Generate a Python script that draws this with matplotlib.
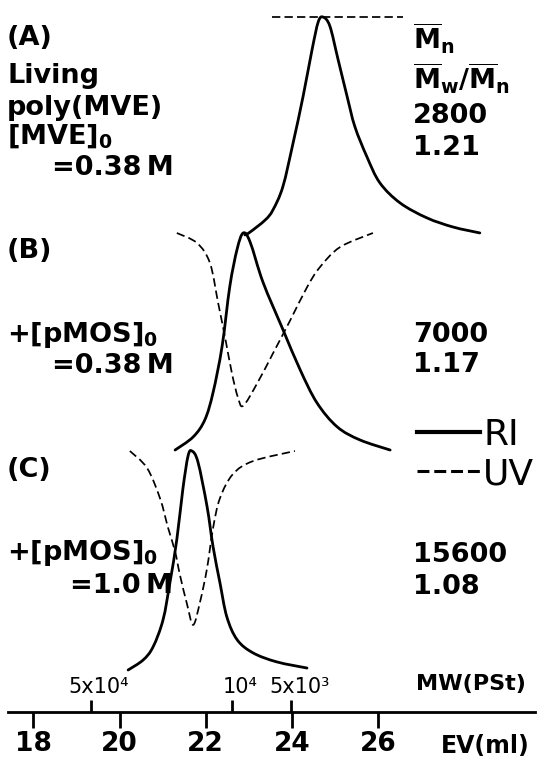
"""GPC traces (RI / UV) of living poly(MVE) before and after pMOS addition."""

import matplotlib
matplotlib.use("Agg")
import matplotlib.pyplot as plt
import matplotlib.transforms as mtransforms
from matplotlib.patches import PathPatch
from matplotlib.path import Path

plt.rcParams["font.family"] = ["DejaVu Sans"]
plt.rcParams["mathtext.fontset"] = "custom"
plt.rcParams["mathtext.rm"] = "DejaVu Sans:bold"
plt.rcParams["mathtext.it"] = "DejaVu Sans:bold"
plt.rcParams["mathtext.bf"] = "DejaVu Sans:bold"

# ---- data (elution volume in ml, detector response relative to RI peak) ----
A_RI_EV = [22.91, 23.03, 23.38, 23.56, 23.79, 24.03, 24.26, 24.47, 24.61, 24.72,
           24.88, 25.07, 25.28, 25.46, 25.74, 26.04, 26.51, 27.13, 27.74, 28.36]
A_RI = [0.005, 0.018, 0.073, 0.119, 0.225, 0.427, 0.638, 0.853, 0.977, 1.0,
        0.959, 0.807, 0.638, 0.500, 0.362, 0.243, 0.151, 0.083, 0.041, 0.014]
A_UV_EV = [23.54, 26.58]
A_UV = [0.0, 0.0]

B_RI_EV = [21.29, 21.71, 21.98, 22.17, 22.38, 22.56, 22.73, 22.87,
           23.03, 23.33, 23.79, 24.19, 24.58, 25.05, 25.58, 26.28]
B_RI = [0.009, 0.069, 0.147, 0.271, 0.482, 0.757, 0.927, 1.0,
        0.959, 0.775, 0.560, 0.376, 0.225, 0.115, 0.055, 0.009]
B_UV_EV = [21.33, 21.80, 22.10, 22.29, 22.45, 22.61, 22.75, 22.87,
           23.19, 23.56, 23.96, 24.35, 24.65, 25.12, 25.88]
B_UV = [0.0, 0.046, 0.138, 0.321, 0.477, 0.642, 0.752, 0.789,
        0.688, 0.550, 0.399, 0.248, 0.156, 0.064, 0.0]

C_RI_EV = [20.20, 20.55, 20.78, 21.01, 21.17, 21.33, 21.47, 21.59, 21.68,
           21.82, 22.03, 22.17, 22.33, 22.49, 22.73, 23.10, 23.65, 24.35]
C_RI = [0.0, 0.046, 0.106, 0.229, 0.399, 0.596, 0.826, 0.977, 1.0,
        0.950, 0.748, 0.564, 0.399, 0.243, 0.138, 0.078, 0.037, 0.009]
C_UV_EV = [20.24, 20.64, 20.94, 21.13, 21.29, 21.40, 21.57, 21.71,
           21.87, 22.03, 22.17, 22.33, 22.63, 23.10, 24.07]
C_UV = [0.0, 0.078, 0.216, 0.353, 0.459, 0.564, 0.702, 0.794,
        0.688, 0.537, 0.353, 0.216, 0.106, 0.046, 0.0]

MN = ["2800", "7000", "15600"]
PDI = ["1.21", "1.17", "1.08"]

EV_TICKS = [18, 20, 22, 24, 26]
MW_TICK_EV = [19.33, 22.62, 23.99]
MW_TICK_LABELS = ["5x10\u2074", "10\u2074", "5x10\u00b3"]

# ---- layout ----
W, H = 538, 757
AXIS_Y = 712                      # pixel row of the EV axis line
BASES = [476, 260, 42]            # RI baseline of each trace, px above axis
SCALE = 219                       # px per unit response
RI_KW = dict(color="black", lw=2.0, capstyle="round", joinstyle="round")
UV_KW = dict(color="black", lw=1.25, ls=(0, (4.8, 2.4)))

fig = plt.figure(figsize=(W / 100, H / 100), dpi=100)
ax = fig.add_axes([0, (H - AXIS_Y) / H, 1, AXIS_Y / H])
ax.set_xlim(18 - 33.3 / 43.1, 18 + (W - 33.3) / 43.1)
ax.set_ylim(0, AXIS_Y)


def px(x, y):
    return x / W, 1 - y / H


def smooth_trace(ax, xs, ys, **kw):
    """Draw the read points joined by a Catmull-Rom curve (as Bezier path)."""
    pts = list(zip(xs, ys))
    if len(pts) < 3:
        ax.plot(xs, ys, color=kw["color"], lw=kw["lw"], ls=kw.get("ls", "-"))
        return
    verts, codes = [pts[0]], [Path.MOVETO]
    n = len(pts)
    for i in range(n - 1):
        p0 = pts[max(i - 1, 0)]
        p1, p2 = pts[i], pts[i + 1]
        p3 = pts[min(i + 2, n - 1)]
        c1 = (p1[0] + (p2[0] - p0[0]) / 6, p1[1] + (p2[1] - p0[1]) / 6)
        c2 = (p2[0] - (p3[0] - p1[0]) / 6, p2[1] - (p3[1] - p1[1]) / 6)
        verts += [c1, c2, p2]
        codes += [Path.CURVE4] * 3
    ax.add_patch(PathPatch(Path(verts, codes), fill=False, **kw))


traces = [(A_RI_EV, A_RI, A_UV_EV, A_UV),
          (B_RI_EV, B_RI, B_UV_EV, B_UV),
          (C_RI_EV, C_RI, C_UV_EV, C_UV)]
for base, (rx, ry, ux, uy) in zip(BASES, traces):
    top = base + SCALE
    smooth_trace(ax, rx, [base + v * SCALE for v in ry], **RI_KW)
    smooth_trace(ax, ux, [top - v * SCALE for v in uy], **UV_KW)

# EV axis
for s in ("left", "right", "top"):
    ax.spines[s].set_visible(False)
ax.spines["bottom"].set_linewidth(2.0)
ax.spines["bottom"].set_bounds(17.41, 29.64)
ax.yaxis.set_visible(False)
ax.set_xticks(EV_TICKS)
ax.tick_params(axis="x", direction="out", length=11.5, width=2.0, pad=2.5,
               labelsize=19)
for t in ax.get_xticklabels():
    t.set_fontweight("bold")

# MW (PSt) calibration ticks, on the same line, pointing up
ax2 = ax.twiny()
ax2.set_xlim(ax.get_xlim())
for s in ax2.spines.values():
    s.set_visible(False)
ax2.spines["top"].set_position(("axes", 0))
ax2.set_xticks(MW_TICK_EV, MW_TICK_LABELS)
ax2.tick_params(axis="x", direction="out", length=8.5, width=2.0, pad=2,
                labelsize=15)
shift = mtransforms.ScaledTranslation(8 / 100, 0, fig.dpi_scale_trans)
for t in ax2.get_xticklabels():
    t.set_transform(t.get_transform() + shift)

fig.text(*px(416, 690), "MW(PSt)", fontsize=16, fontweight="bold", va="baseline")
fig.text(*px(441, 753), "EV(ml)", fontsize=17, fontweight="bold", va="baseline")

# sample annotations
TXT = dict(fontsize=19.5, fontweight="bold", va="baseline")
fig.text(*px(7, 45), "(A)", **TXT)
fig.text(*px(7, 83), "Living", **TXT)
fig.text(*px(7, 115), "poly(MVE)", **TXT)
fig.text(*px(7, 143), "[MVE]$_0$", **TXT)
fig.text(*px(52, 175), "=0.38\u2009M", **TXT)

fig.text(*px(7, 258), "(B)", **TXT)
fig.text(*px(7, 342), "+[pMOS]$_0$", **TXT)
fig.text(*px(52, 373), "=0.38\u2009M", **TXT)

fig.text(*px(7, 477), "(C)", **TXT)
fig.text(*px(7, 560), "+[pMOS]$_0$", **TXT)
fig.text(*px(70, 593), "=1.0\u2009M", **TXT)

fig.text(*px(413, 50), r"$\overline{M}_n$", **TXT)
fig.text(*px(413, 90), r"$\overline{M}_w/\overline{M}_n$", **TXT)
for (y1, y2), mn, pdi in zip([(123, 155), (342, 372), (562, 594)], MN, PDI):
    fig.text(*px(413, y1), mn, **TXT)
    fig.text(*px(413, y2), pdi, **TXT)

# detector legend
h_ri, = ax.plot([], [], color="black", lw=3.0)
h_uv, = ax.plot([], [], color="black", lw=2.2, ls=(0, (3.9, 1.6)))
leg = fig.legend([h_ri, h_uv], ["RI", "UV"], loc="upper left",
                 bbox_to_anchor=px(417, 418), frameon=False, fontsize=26,
                 handlelength=1.75, handletextpad=0.08, labelspacing=0.14,
                 borderpad=0, borderaxespad=0)

fig.savefig("out.png", dpi=100)
